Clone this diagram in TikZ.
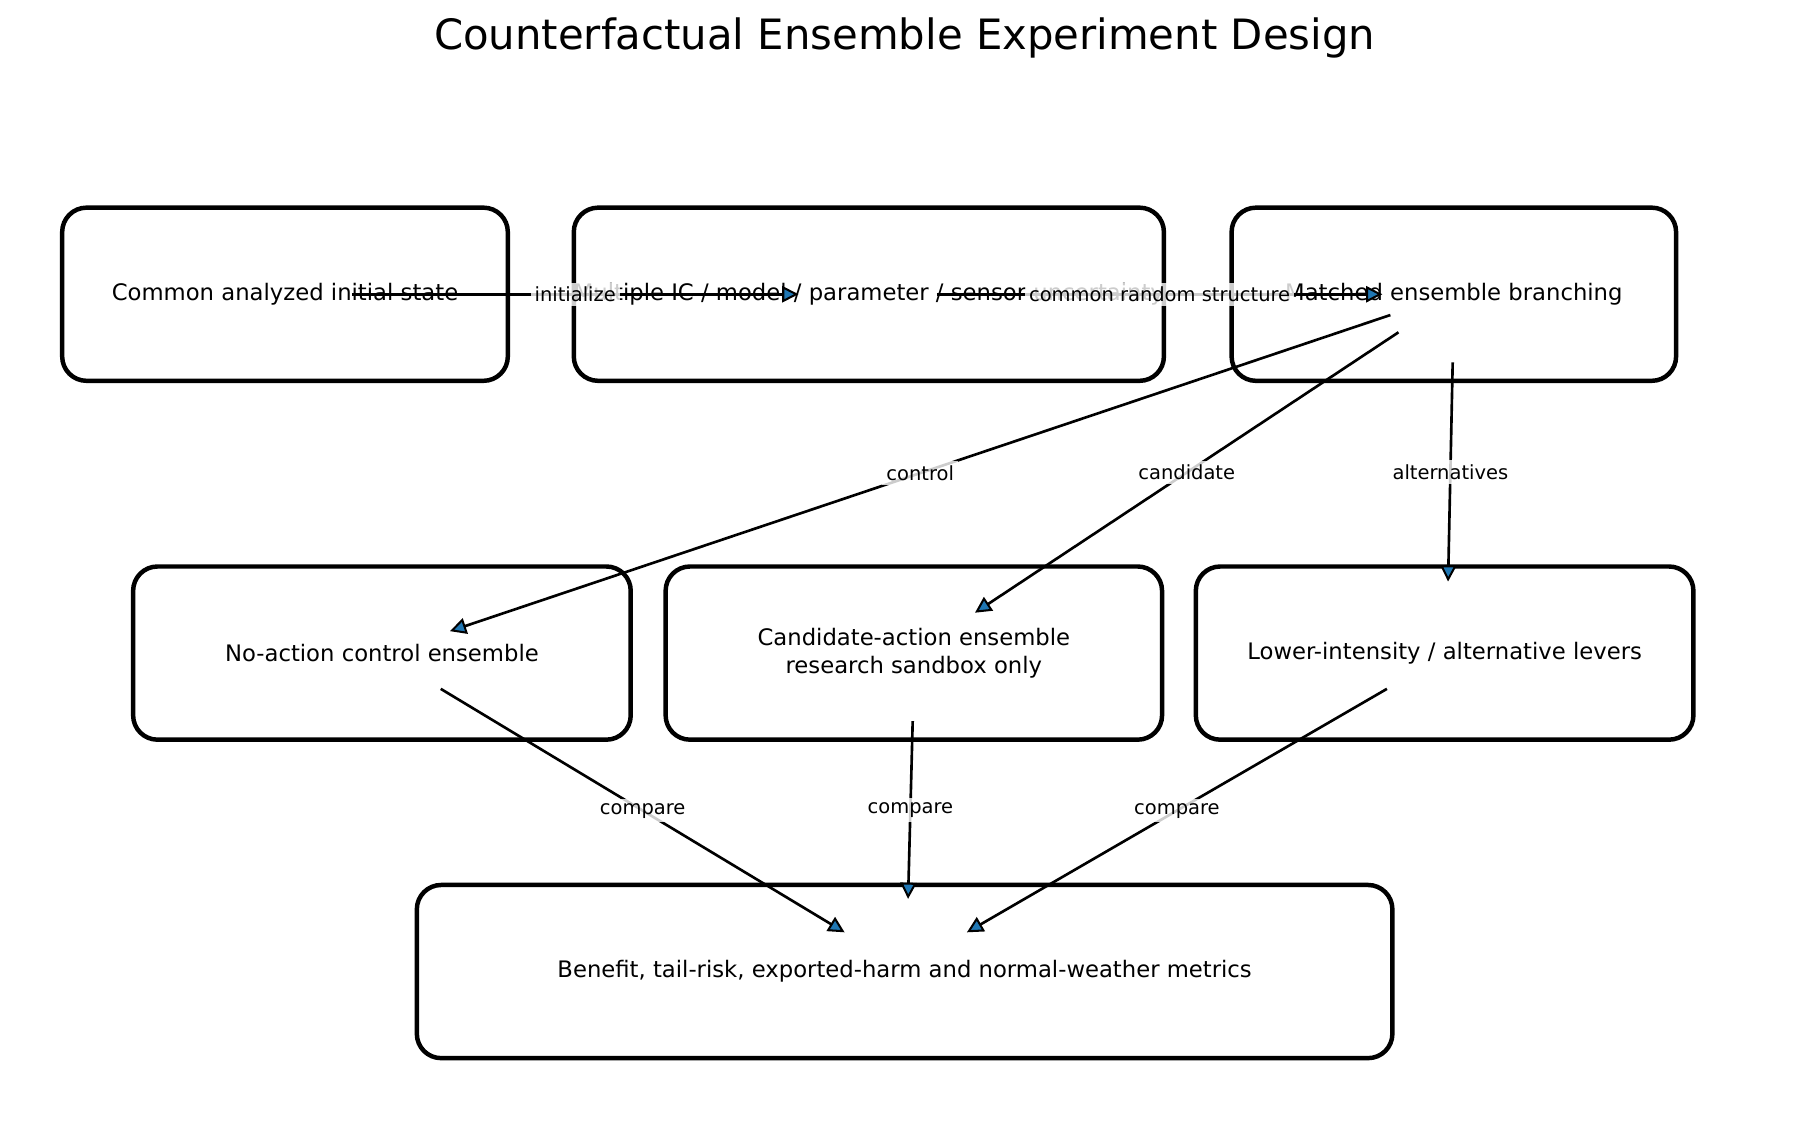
\documentclass[tikz,border=0pt]{standalone}
\usepackage{fontspec}
\setmainfont{DejaVu Sans}
\usetikzlibrary{arrows.meta}
\definecolor{tabblue}{HTML}{1F77B4}
\tikzset{
  stagebox/.style={draw, line width=1.1pt, rounded corners=6pt, minimum height=1.5cm, inner sep=0pt, align=center, font=\fontsize{5.6}{6.8}\selectfont},
  flow/.style={line width=0.65pt, -{Triangle[length=4pt,width=4pt,fill=tabblue,color=black,line width=0.5pt]}},
  tag/.style={fill=white, fill opacity=0.8, text opacity=1, inner sep=1pt, font=\fontsize{4.8}{6}\selectfont}
}
\begin{document}
\begin{tikzpicture}[x=0.01cm,y=-0.01cm]
            \useasboundingbox (0,0) rectangle (1560,978);
            \node[font=\fontsize{10.3}{12}\selectfont] (title) at (784,33) {Counterfactual Ensemble Experiment Design};

            % top row
            \node[stagebox, minimum width=3.86cm] (init) at (247,255) {Common analyzed initial state};
            \node[stagebox, minimum width=4.77cm] (unc) at (753,255) {Multiple IC / model / parameter / sensor uncertainty};
            \node[stagebox, minimum width=3.85cm] (branch) at (1260,255) {Matched ensemble branching};

            % middle row
            \node[stagebox, minimum width=4.31cm] (ctrl) at (331,566) {No-action control ensemble};
            \node[stagebox, minimum width=4.30cm] (cand) at (792,566) {Candidate-action ensemble\\research sandbox only};
            \node[stagebox, minimum width=4.31cm] (alt) at (1252,566) {Lower-intensity / alternative levers};

            % bottom
            \node[stagebox, minimum width=8.45cm] (metrics) at (784,842) {Benefit, tail-risk, exported-harm and normal-weather metrics};

            \coordinate (initA) at (305,255);   \coordinate (uncB) at (692,255);
            \coordinate (uncA) at (812,255);    \coordinate (branchB) at (1198,255);
            \coordinate (brC) at (1205,273);    \coordinate (ctrlB) at (390,547);
            \coordinate (brK) at (1212,288);    \coordinate (candB) at (845,531);
            \coordinate (brL) at (1259,314);    \coordinate (altB) at (1255,504);
            \coordinate (ctrlA) at (382,597);   \coordinate (metL) at (732,808);
            \coordinate (candA) at (791,625);   \coordinate (metM) at (787,779);
            \coordinate (altA) at (1202,597);   \coordinate (metR) at (838,808);

            \draw[flow] (initA) -- node[tag] {initialize} (uncB);
            \draw[flow] (uncA) -- node[tag] {common random structure} (branchB);
            \draw[flow] (brC) -- node[tag] {control} (ctrlB);
            \draw[flow] (brK) -- node[tag] {candidate} (candB);
            \draw[flow] (brL) -- node[tag] {alternatives} (altB);
            \draw[flow] (ctrlA) -- node[tag] {compare} (metL);
            \draw[flow] (candA) -- node[tag] {compare} (metM);
            \draw[flow] (altA) -- node[tag] {compare} (metR);
        \end{tikzpicture}
\end{document}
